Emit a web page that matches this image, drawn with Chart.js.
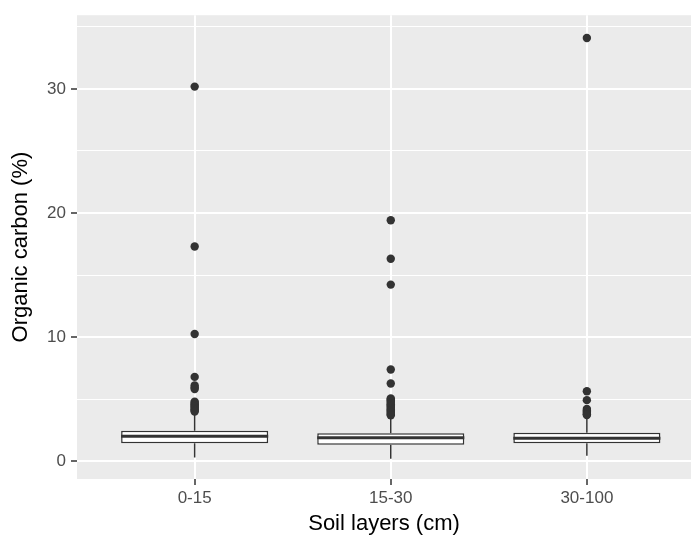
<!DOCTYPE html>
<html>
<head>
<meta charset="utf-8">
<script src="https://cdn.jsdelivr.net/npm/chart.js@4/dist/chart.umd.min.js"></script>
<style>
  html, body { margin: 0; padding: 0; background: #fff; }
  canvas { display: block; }
</style>
</head>
<body>
<canvas id="chart" width="691" height="540"></canvas>
<script>
// soil layers and box statistics (% organic carbon)
const categories = ['0-15', '15-30', '30-100'];
const whiskerLow = [0.32, 0.22, 0.46];
const q1 = [1.47, 1.34, 1.47];
const median = [2.04, 1.92, 1.88];
const q3 = [2.48, 2.28, 2.32];
const whiskerHigh = [3.98, 3.6, 3.55];

const outliers015 = [30.18, 17.31, 10.26, 6.81, 6.12, 5.95, 5.84, 4.81, 4.7, 4.6, 4.5, 4.4, 4.3, 4.2, 4.1, 4.03];
const outliers1530 = [19.42, 16.32, 14.24, 7.41, 6.28, 5.08, 5.0, 4.9, 4.8, 4.7, 4.6, 4.5, 4.4, 4.3, 4.2, 4.1, 4.0, 3.9, 3.8, 3.72];
const outliers30100 = [34.1, 5.65, 4.94, 4.22, 4.1, 4.0, 3.9, 3.8, 3.74];
const outliers = [outliers015, outliers1530, outliers30100];

const yTicks = [0, 5, 10, 15, 20, 25, 30, 35];
const yLabeled = [0, 10, 20, 30];

const boxHalf = 0.375;
const dark = '#333333';
const fontFamily = '"Liberation Sans", Arial, sans-serif';

const datasets = [];

datasets.push({
    type: 'scatter',
    data: outliers.flatMap((vals, i) => vals.map((v) => ({ x: i + 1, y: v }))),
    backgroundColor: dark,
    borderWidth: 0,
    pointRadius: 4.2,
    order: 0,
});

categories.forEach((c, i) => {
    datasets.push({
        type: 'line',
        data: [{ x: i + 1 - boxHalf, y: median[i] }, { x: i + 1 + boxHalf, y: median[i] }],
        borderColor: dark,
        borderWidth: 3,
        pointRadius: 0,
        order: 1,
    });
    datasets.push({
        type: 'line',
        data: [{ x: i + 1, y: q3[i] }, { x: i + 1, y: whiskerHigh[i] }],
        borderColor: dark,
        borderWidth: 1.5,
        pointRadius: 0,
        order: 3,
    });
    datasets.push({
        type: 'line',
        data: [{ x: i + 1, y: q1[i] }, { x: i + 1, y: whiskerLow[i] }],
        borderColor: dark,
        borderWidth: 1.5,
        pointRadius: 0,
        order: 3,
    });
});

datasets.push({
    type: 'bar',
    data: categories.map((c, i) => ({ x: i + 1, y: [q1[i], q3[i]] })),
    backgroundColor: '#ffffff',
    borderColor: dark,
    borderWidth: 1.5,
    borderSkipped: false,
    categoryPercentage: 0.75,
    barPercentage: 1,
    grouped: false,
    order: 2,
});

const panelBackground = {
    id: 'panelBackground',
    beforeDraw(chart) {
        const { ctx, chartArea } = chart;
        ctx.save();
        ctx.fillStyle = '#ffffff';
        ctx.fillRect(0, 0, chart.width, chart.height);
        ctx.fillStyle = '#EBEBEB';
        ctx.fillRect(chartArea.left, chartArea.top, chartArea.right - chartArea.left, chartArea.bottom - chartArea.top);
        ctx.restore();
    },
};

new Chart(document.getElementById('chart'), {
    type: 'scatter',
    data: { datasets },
    options: {
        responsive: false,
        animation: false,
        devicePixelRatio: 1,
        layout: { autoPadding: false, padding: { top: 13, left: 0, right: 0, bottom: 0 } },
        plugins: {
            legend: { display: false },
            tooltip: { enabled: false },
        },
        scales: {
            x: {
                type: 'linear',
                min: 0.4,
                max: 3.531,
                offset: false,
                afterBuildTicks: (scale) => {
                    scale.ticks = categories.map((c, i) => ({ value: i + 1 }));
                },
                afterFit: (scale) => {
                    scale.height = 61;
                },
                grid: {
                    offset: false,
                    color: '#ffffff',
                    lineWidth: 2,
                    tickColor: dark,
                    tickLength: 6,
                    tickWidth: 1.5,
                },
                border: { display: false },
                ticks: {
                    autoSkip: false,
                    maxRotation: 0,
                    padding: 3,
                    color: '#4D4D4D',
                    font: { family: fontFamily, size: 17 },
                    callback: (value, index) => categories[index],
                },
                title: {
                    display: true,
                    text: 'Soil layers (cm)',
                    color: '#000000',
                    font: { family: fontFamily, size: 22 },
                    padding: { top: 0, bottom: 3 },
                },
            },
            y: {
                type: 'linear',
                min: -1.41,
                max: 35.93,
                afterBuildTicks: (scale) => {
                    scale.ticks = yTicks.map((v) => ({ value: v }));
                },
                afterFit: (scale) => {
                    scale.width = 77;
                },
                grid: {
                    color: '#ffffff',
                    lineWidth: (ctx) => (yLabeled.includes(ctx.tick.value) ? 2 : 1),
                    tickColor: (ctx) => (yLabeled.includes(ctx.tick.value) ? dark : 'rgba(0,0,0,0)'),
                    tickLength: 6,
                    tickWidth: 1.5,
                },
                border: { display: false },
                ticks: {
                    autoSkip: false,
                    padding: 5,
                    color: '#4D4D4D',
                    font: { family: fontFamily, size: 17 },
                    callback: (value) => (yLabeled.includes(value) ? String(value) : ''),
                },
                title: {
                    display: true,
                    text: 'Organic carbon (%)',
                    color: '#000000',
                    font: { family: fontFamily, size: 22 },
                    padding: { top: 8, bottom: 0 },
                },
            },
        },
    },
    plugins: [panelBackground],
});
</script>
</body>
</html>
